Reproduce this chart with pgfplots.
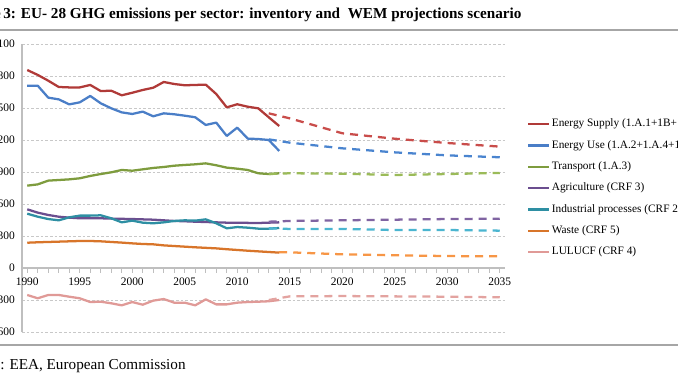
\documentclass[border=0pt]{standalone}
\usepackage{pgfplots}
\pgfplotsset{compat=1.18}
\usepackage{fontspec}
\setmainfont{Liberation Serif}
\definecolor{esS}{HTML}{B03A38}
\definecolor{esD}{HTML}{C94D4B}
\definecolor{euS}{HTML}{4A7EC7}
\definecolor{euD}{HTML}{4A84CF}
\definecolor{trS}{HTML}{7E9C3E}
\definecolor{trD}{HTML}{9BBB59}
\definecolor{agS}{HTML}{6B4E8F}
\definecolor{agD}{HTML}{8064A2}
\definecolor{ipS}{HTML}{2E8FA3}
\definecolor{ipD}{HTML}{4BB5D0}
\definecolor{waS}{HTML}{D8752A}
\definecolor{waD}{HTML}{F79646}
\definecolor{luS}{HTML}{E09A97}
\definecolor{luD}{HTML}{E3A3A0}
\definecolor{axisgray}{HTML}{BFBFBF}
\definecolor{gridgray}{HTML}{C8C8C8}
\definecolor{rulegray}{HTML}{A6A6A6}

\pgfplotstableread{
year es eu tr ag ip wa lu
1990 1856 1709 772 550 509 237 -253
1991 1810 1709 784 519 481 241 -284
1992 1756 1597 819 497 459 244 -253
1993 1697 1581 825 481 447 247 -253
1994 1693 1534 831 472 475 250 -269
1995 1693 1553 841 466 491 253 -284
1996 1716 1613 863 466 491 253 -319
1997 1659 1544 881 466 494 250 -316
1998 1662 1497 897 463 466 244 -331
1999 1619 1459 919 461 428 238 -350
2000 1643 1444 912 459 444 231 -319
2001 1669 1466 925 456 425 225 -344
2002 1690 1422 938 453 419 222 -306
2003 1744 1450 947 447 428 212 -291
2004 1725 1441 959 441 441 206 -325
2005 1713 1428 966 438 447 200 -325
2006 1716 1413 972 434 444 194 -350
2007 1719 1341 981 431 456 189 -294
2008 1631 1363 963 428 419 184 -341
2009 1506 1238 941 425 372 176 -341
2010 1535 1316 931 425 384 169 -325
2011 1512 1213 919 423 378 162 -319
2012 1497 1209 888 422 369 156 -316
2013 1413 1200 881 425 369 150 -312
2014 1331 1097 888 428 375 144 -300
}\hist

\pgfplotstableread{
year es eu tr ag ip lu
2013 1450 1206 881 434 372 -300
2015 1403 1175 888 441 366 -266
2020 1263 1122 884 447 366 -263
2025 1212 1084 872 453 356 -266
2030 1172 1056 881 459 356 -269
2035 1138 1038 891 462 350 -275
}\proj

\pgfplotstableread{
year wa
2014 147
2015 147
2020 128
2025 119
2030 112
2035 109
}\projwa

\begin{document}
\begin{tikzpicture}
% rules
\draw[rulegray, line width=1.1pt] (-20pt,263.25pt) -- (530pt,263.25pt);
\draw[rulegray, line width=1.1pt] (-20pt,27pt) -- (530pt,27pt);
% title
\node[anchor=base west, inner sep=0pt, font=\bfseries\fontsize{11.4}{13}\selectfont] at (2.25pt,271.9pt) {3: EU- 28 GHG emissions per sector: inventory and~ WEM projections scenario};
\node[anchor=base east, inner sep=0pt, font=\bfseries\fontsize{11.4}{13}\selectfont] at (0.8pt,271.9pt) {Figure};
% source
\node[anchor=base west, inner sep=0pt, font=\fontsize{11.4}{13}\selectfont] at (0pt,8.25pt) {: EEA, European Commission};
\node[anchor=base east, inner sep=0pt, font=\fontsize{11.4}{13}\selectfont] at (0pt,8.25pt) {Source};

\begin{axis}[
  at={(16.5pt,36.75pt)}, anchor=south west,
  scale only axis, width=362.25pt, height=216pt,
  xmin=1989.5, xmax=2035.5, ymin=-600, ymax=2100,
  axis x line=middle, axis y line=left,
  x axis line style={-, draw=axisgray, line width=1pt},
  y axis line style={-, draw=axisgray, line width=1.1pt},
  xtick={1990,1995,...,2035}, minor x tick num=4,
  ytick={-600,-300,...,2100},
  ymajorgrids,
  grid style={draw=gridgray, dash pattern=on 2pt off 1.5pt, line width=0.5pt},
  ytick style={draw=none},
  xtick style={draw=axisgray, line width=0.7pt},
  minor tick style={draw=axisgray, line width=0.7pt},
  xtick align=outside,
  major tick length=3.75pt, minor tick length=3.75pt,
  tick label style={font=\fontsize{8.6}{9.6}\selectfont},
  /pgf/number format/1000 sep={},
  /pgf/number format/assume math mode=true,
  hide obscured x ticks=false, hide obscured y ticks=false,
  every axis plot/.append style={line width=1.7pt, line join=round},
  legend image code/.code={\draw[#1] (0pt,0pt) -- (15.75pt,0pt);},
  legend style={at={(axis description cs:1.0455,0.7407)}, anchor=north west,
    draw=none, fill=none, inner sep=0pt, row sep=8pt,
    font=\fontsize{8.5}{10}\selectfont,
    nodes={inner xsep=1pt, inner ysep=0pt, text height=6pt, text depth=2pt}},
  legend cell align=left,
  clip=false,
]
\addplot[esS, solid] table[x=year,y=es]{\hist};
\addlegendentry{Energy Supply (1.A.1+1B+1.A.5)}
\addplot[euS, solid] table[x=year,y=eu]{\hist};
\addlegendentry{Energy Use (1.A.2+1.A.4+1.C)}
\addplot[trS, solid] table[x=year,y=tr]{\hist};
\addlegendentry{Transport (1.A.3)}
\addplot[agS, solid] table[x=year,y=ag]{\hist};
\addlegendentry{Agriculture (CRF 3)}
\addplot[ipS, solid] table[x=year,y=ip]{\hist};
\addlegendentry{Industrial processes (CRF 2)}
\addplot[waS, solid] table[x=year,y=wa]{\hist};
\addlegendentry{Waste (CRF 5)}
\addplot[luS, solid] table[x=year,y=lu]{\hist};
\addlegendentry{LULUCF (CRF 4)}

\addplot[esD, dash pattern=on 6pt off 4.5pt, forget plot] table[x=year,y=es]{\proj};
\addplot[euD, dash pattern=on 6pt off 4.5pt, forget plot] table[x=year,y=eu]{\proj};
\addplot[trD, dash pattern=on 6pt off 4.5pt, forget plot] table[x=year,y=tr]{\proj};
\addplot[agD, dash pattern=on 6pt off 4.5pt, forget plot] table[x=year,y=ag]{\proj};
\addplot[ipD, dash pattern=on 6pt off 4.5pt, forget plot] table[x=year,y=ip]{\proj};
\addplot[waD, dash pattern=on 6pt off 4.5pt, forget plot] table[x=year,y=wa]{\projwa};
\addplot[luD, dash pattern=on 6pt off 4.5pt, forget plot] table[x=year,y=lu]{\proj};
\end{axis}
\pgfresetboundingbox
\path[use as bounding box] (0pt,0pt) rectangle (508.5pt,285.75pt);
\end{tikzpicture}
\end{document}
